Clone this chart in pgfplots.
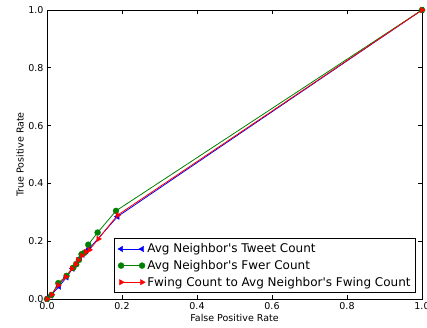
\documentclass[border=0pt]{standalone}
\usepackage{pgfplots}
\pgfplotsset{compat=1.18}
\usepackage{fontspec}
\setmainfont{DejaVu Sans}[Ligatures=TeXOff]
\usetikzlibrary{calc}
\definecolor{mb}{rgb}{0,0,1}
\definecolor{mg}{rgb}{0,0.5,0}
\definecolor{mr}{rgb}{1,0,0}
\begin{document}
\begin{tikzpicture}
\begin{axis}[
  scale only axis,
  width=375pt, height=289pt,
  xmin=0, xmax=1, ymin=0, ymax=1,
  xtick={0,0.2,0.4,0.6,0.8,1.0},
  ytick={0,0.2,0.4,0.6,0.8,1.0},
  /pgf/number format/assume math mode=true,
  /pgf/number format/fixed,
  /pgf/number format/fixed zerofill,
  /pgf/number format/precision=1,
  tick label style={font=\fontsize{9.5}{11}\selectfont},
  label style={font=\fontsize{9.5}{11}\selectfont},
  xlabel={False Positive Rate},
  ylabel={True Positive Rate},
  xlabel style={at={(axis description cs:0.5,-0.066)}, anchor=center},
  ylabel style={at={(axis description cs:-0.072,0.5)}, anchor=center},
  tick align=inside,
  major tick length=4pt,
  axis line style={line width=0.8pt},
  every tick/.style={black, line width=0.6pt},
  legend style={at={(axis cs:0.984,0.021)}, anchor=south east,
    font=\fontsize{12}{14}\selectfont, draw=black, line width=0.8pt,
    inner xsep=3pt, inner ysep=3pt, row sep=2pt},
  legend cell align=left,
  legend image code/.code={\draw[#1] plot coordinates {(0pt,0pt) (21pt,0pt)};},
]
\addplot[mb, line width=0.8pt, mark=triangle*, mark size=3.2pt, mark options={rotate=90, fill=mb, draw=mb, line width=0.3pt}] coordinates {
(0,0) (0.01,0.012) (0.032,0.043) (0.052,0.075) (0.068,0.105) (0.08,0.125) (0.088,0.142) (0.095,0.153) (0.105,0.165) (0.113,0.175) (0.188,0.285) (1,1)
};
\addlegendentry{Avg Neighbor's Tweet Count}
\addplot[mg, line width=0.8pt, mark=*, mark size=3pt, mark options={fill=mg, draw=mg, line width=0.3pt}] coordinates {
(0,0) (0.012,0.014) (0.03,0.055) (0.052,0.08) (0.07,0.108) (0.078,0.12) (0.085,0.135) (0.092,0.155) (0.1,0.16) (0.11,0.188) (0.135,0.23) (0.184,0.305) (1,1)
};
\addlegendentry{Avg Neighbor's Fwer Count}
\addplot[mr, line width=0.8pt, mark=triangle*, mark size=3.2pt, mark options={rotate=-90, fill=mr, draw=mr, line width=0.3pt}] coordinates {
(0,0) (0.012,0.015) (0.03,0.048) (0.05,0.077) (0.066,0.105) (0.076,0.12) (0.083,0.135) (0.093,0.15) (0.103,0.163) (0.113,0.17) (0.137,0.208) (0.188,0.29) (1,1)
};
\addlegendentry{Fwing Count to Avg Neighbor's Fwing Count}
\end{axis}
\pgfresetboundingbox
\path[use as bounding box] ($(current axis.south west)+(-47pt,-29pt)$) rectangle ($(current axis.north east)+(5pt,10pt)$);
\end{tikzpicture}
\end{document}
